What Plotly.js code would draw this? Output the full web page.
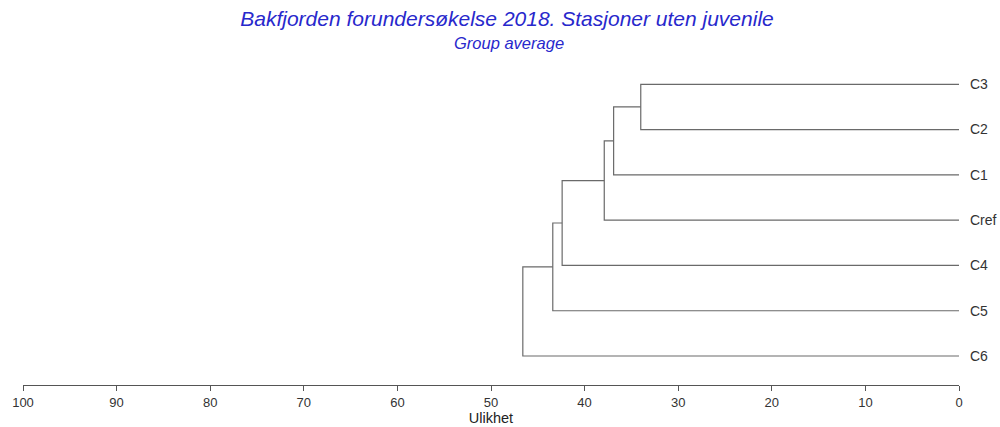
<!DOCTYPE html>
<html>
<head>
<meta charset="utf-8">
<script src="https://cdn.plot.ly/plotly-3.0.1.min.js"></script>
<style>
  html, body { margin: 0; padding: 0; background: #fff; }
  #chart { width: 1000px; height: 427px; }
</style>
</head>
<body>
<div id="chart"></div>
<script>
// Stations in leaf order, top to bottom
const leaves = ['C3', 'C2', 'C1', 'Cref', 'C4', 'C5', 'C6'];

// Agglomeration steps (group average): node A joins node B at the given dissimilarity
const mergeA = ['C3', 'm1', 'm2', 'm3', 'm4', 'm5'];
const mergeB = ['C2', 'C1', 'Cref', 'C4', 'C5', 'C6'];
const mergeHeight = [34.0, 36.9, 37.9, 42.4, 43.4, 46.6];

// x-axis ticks
const xTicks = [100, 90, 80, 70, 60, 50, 40, 30, 20, 10, 0];

// Position of each node: leaves at height 0, y from leaf order (top = highest)
const nodePos = {};
leaves.forEach((name, i) => {
  nodePos[name] = { h: 0, y: leaves.length - 1 - i };
});

const xs = [], ys = [];
mergeHeight.forEach((h, k) => {
  const a = nodePos[mergeA[k]];
  const b = nodePos[mergeB[k]];
  xs.push(a.h, h, h, b.h, null);
  ys.push(a.y, a.y, b.y, b.y, null);
  nodePos['m' + (k + 1)] = { h: h, y: (a.y + b.y) / 2 };
});

const trace = {
  type: 'scatter',
  mode: 'lines',
  x: xs,
  y: ys,
  line: { color: '#6a6a6a', width: 1.2 },
  hoverinfo: 'skip',
  showlegend: false
};

const FONT = 'Liberation Sans, Arial, sans-serif';
const BLUE = '#2828cc';

const layout = {
  width: 1000,
  height: 427,
  paper_bgcolor: '#ffffff',
  plot_bgcolor: '#ffffff',
  margin: { l: 23, r: 41, t: 70, b: 42 },
  font: { family: FONT, color: '#222' },
  title: {
    text: 'Bakfjorden forundersøkelse 2018. Stasjoner uten juvenile',
    font: { size: 21, color: BLUE, style: 'italic', family: FONT },
    x: 0.507,
    xanchor: 'center',
    y: 1 - 19 / 427,
    yanchor: 'middle',
    yref: 'container'
  },
  annotations: [{
    text: 'Group average',
    font: { size: 16.5, color: BLUE, style: 'italic', family: FONT },
    xref: 'paper', yref: 'paper',
    x: 0.519, y: 1, yshift: 27,
    xanchor: 'center', yanchor: 'middle',
    showarrow: false
  }],
  xaxis: {
    range: [100, 0],
    tickvals: xTicks,
    ticktext: xTicks.map(String),
    ticks: 'outside',
    ticklen: 5,
    tickcolor: '#555',
    tickwidth: 1,
    showline: true,
    linecolor: '#555',
    linewidth: 1,
    showgrid: false,
    zeroline: false,
    tickfont: { size: 13, color: '#333' },
    title: { text: 'Ulikhet', font: { size: 14.5, color: '#222' }, standoff: 1 }
  },
  yaxis: {
    range: [-0.64, 6.316],
    side: 'right',
    tickvals: leaves.map((_, i) => leaves.length - 1 - i),
    ticktext: leaves,
    ticks: '',
    ticklabelstandoff: 10,
    showline: false,
    showgrid: false,
    zeroline: false,
    tickfont: { size: 14, color: '#333' }
  }
};

Plotly.newPlot('chart', [trace], layout, { displayModeBar: false, staticPlot: true });
</script>
</body>
</html>
